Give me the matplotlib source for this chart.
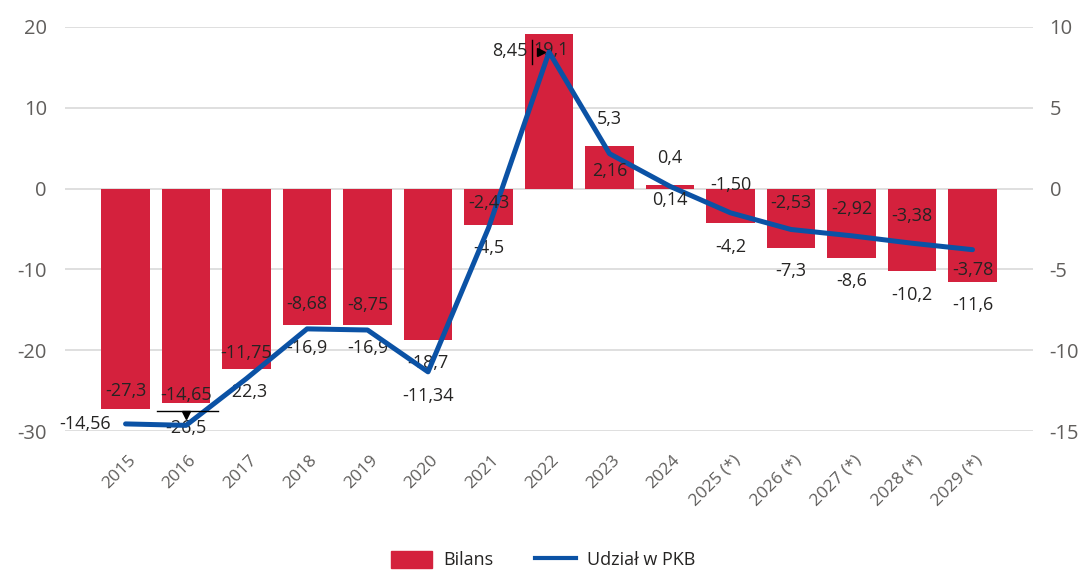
import matplotlib
matplotlib.use("Agg")
import matplotlib.pyplot as plt
import matplotlib.transforms as mtransforms
from matplotlib.patches import Patch
from matplotlib.lines import Line2D

plt.rcParams["font.family"] = ["Open Sans", "DejaVu Sans"]
plt.rcParams["axes.unicode_minus"] = False

# data
years = ["2015", "2016", "2017", "2018", "2019", "2020", "2021", "2022", "2023",
         "2024", "2025 (*)", "2026 (*)", "2027 (*)", "2028 (*)", "2029 (*)"]
bilans = [-27.3, -26.5, -22.3, -16.9, -16.9, -18.7, -4.5, 19.1, 5.3,
          0.4, -4.2, -7.3, -8.6, -10.2, -11.6]
udzial_pkb = [-14.56, -14.65, -11.75, -8.68, -8.75, -11.34, -2.43, 8.45, 2.16,
              0.14, -1.50, -2.53, -2.92, -3.38, -3.78]

RED = "#D4213D"
BLUE = "#0B52A5"
GRAY = "#605E5C"
TXT = "#252423"


def fmt(v, dec):
    return f"{v:.{dec}f}".replace(".", ",")


fig = plt.figure(figsize=(10.86, 5.73), dpi=100)
ax = fig.add_axes([0.0599, 0.2478, 0.8913, 0.7051])
ax2 = ax.twinx()

x = list(range(len(years)))
ax.bar(x, bilans, width=0.8, color=RED, zorder=2)
ax2.plot(x, udzial_pkb, color=BLUE, lw=3.6, solid_capstyle="round",
         solid_joinstyle="round", zorder=3)

ax.set_xlim(-1, 15)
ax.set_ylim(-30, 20)
ax2.set_ylim(-15, 10)
ax.set_yticks([-30, -20, -10, 0, 10, 20])
ax2.set_yticks([-15, -10, -5, 0, 5, 10])
ax.set_xticks(x)
ax.set_xticklabels(years, rotation=45, ha="right", va="top",
                   rotation_mode="anchor")

ax.yaxis.grid(True, color="#dcdcdc", lw=1.3, zorder=0)
ax.set_axisbelow(True)
for a in (ax, ax2):
    for s in a.spines.values():
        s.set_visible(False)
    a.tick_params(length=0, colors=GRAY, labelsize=14.5)
ax.tick_params(axis="x", labelsize=12.5, pad=15)
ax.tick_params(axis="y", pad=13)
ax2.tick_params(axis="y", pad=12)

# nudge the rotated year labels a little to the right
shift = mtransforms.ScaledTranslation(2 / 100, 0, fig.dpi_scale_trans)
for lab in ax.get_xticklabels():
    lab.set_transform(lab.get_transform() + shift)

ax2.set_zorder(ax.get_zorder() + 1)
ax2.patch.set_visible(False)

# bar label offsets in pixels (dx, dy)
bar_off = [(0, 18), (0, -25), (0, -23), (0, -23), (0, -23), (0, -23), (0, -23),
           (2, -16), (0, 27), (0, 27), (0, -24), (0, -23), (0, -23), (0, -24), (0, -23)]
for i, v in enumerate(bilans):
    dx, dy = bar_off[i]
    ax.annotate(fmt(v, 1), (i, v), xytext=(dx, dy), textcoords="offset pixels",
                ha="center", va="center", fontsize=13, color=TXT, zorder=5)

# line label offsets in pixels (dx, dy, ha)
line_off = [(-15, 0, "right"), (0, 30, "center"), (0, 25, "center"),
            (0, 25, "center"), (0, 25, "center"), (0, -24, "center"),
            (0, 25, "center"), (-22, 1, "right"), (0, -17, "center"),
            (0, -14, "center"), (0, 28, "center"), (0, 26, "center"),
            (0, 27, "center"), (0, 27, "center"), (0, -20, "center")]
for i, v in enumerate(udzial_pkb):
    dx, dy, ha = line_off[i]
    ax2.annotate(fmt(v, 2), (i, v), xytext=(dx, dy), textcoords="offset pixels",
                 ha=ha, va="center", fontsize=13, color=TXT, zorder=5)

# small leader marks visible in the original
ax2.plot([0.52, 1.53], [-13.77, -13.77], color="black", lw=1, zorder=4)
ax2.plot([1.0], [-14.0], marker="v", color="black", ms=6, zorder=4)
ax2.plot([6.87], [8.45], marker=">", color="black", ms=6, zorder=4)
ax2.plot([6.72, 6.72], [7.74, 9.22], color="black", lw=1, zorder=4)

handles = [Patch(facecolor=RED, edgecolor=RED),
           Line2D([0], [0], color=BLUE, lw=3)]
fig.legend(handles, ["Bilans", "Udział w PKB"], loc="lower center",
           bbox_to_anchor=(0.5, -0.022), ncol=2, frameon=False, fontsize=13,
           handlelength=2.3, handleheight=1.1, columnspacing=2.3,
           handletextpad=0.6, labelcolor=TXT)

fig.savefig("out.png", dpi=100)
